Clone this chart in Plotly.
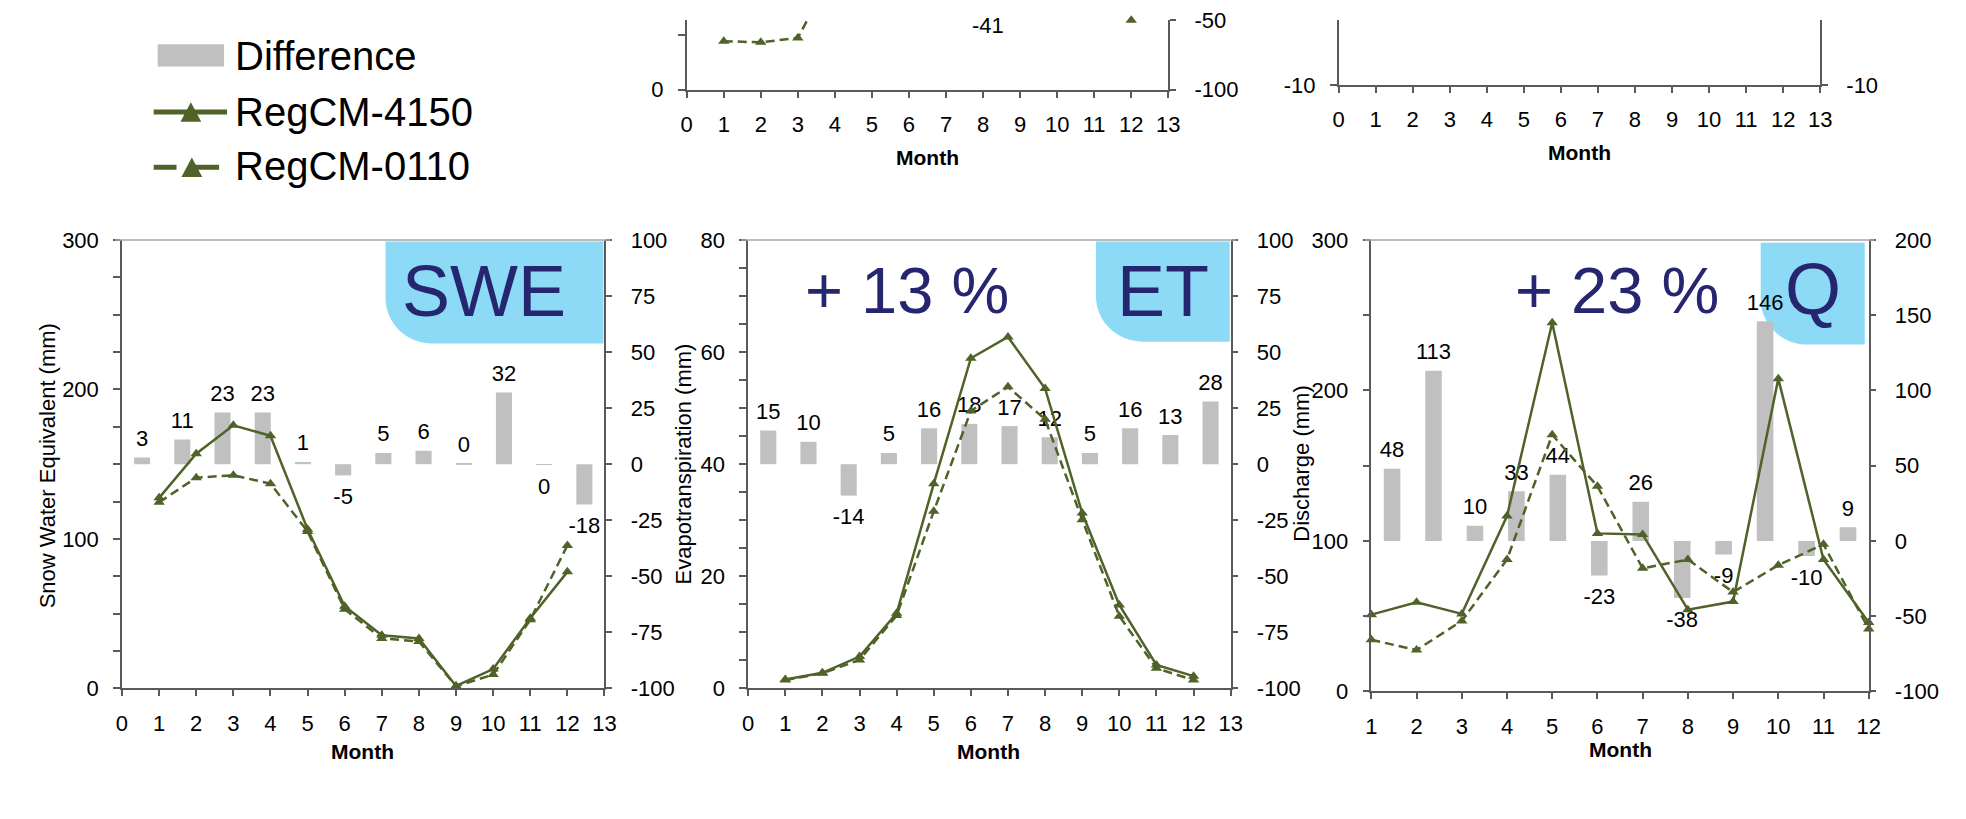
import plotly.graph_objects as go

# Page is 1966x819; the browser body keeps its default 8px margin,
# so the figure itself is 1950x802 and sits at (8, 8).
PAGE_OFF = 8
FW, FH = 1950, 802

# ---------------- data ----------------
months = list(range(1, 13))
bar_slots = list(range(1, 13))
month_ticks = list(range(0, 14))
q_month_ticks = list(range(1, 13))

# upper-middle panel (only its lowest part is visible)
top_4150 = [None, None, 70, None, None, None, None, None, None, None, None, 70]
top_0110 = [44, 43, 47, 110, None, None, None, None, None, None, None, 63]
top_diff = [None, None, None, None, None, None, None, -41, None, None, None, None]

# Snow water equivalent
swe_4150 = [127.5, 157, 176, 169, 106.5, 55, 35.6, 33.5, 1.7, 13, 47, 78]
swe_0110 = [124.5, 141, 142.6, 137, 105, 53, 33.5, 31.4, 1.5, 9.3, 46, 95.7]
swe_diff = [3, 11, 23, 23, 1, -5, 5, 6, 0.3, 32, -0.3, -18]

# Evapotranspiration
et_4150 = [1.6, 2.8, 5.7, 13.4, 36.5, 58.9, 62.7, 53.5, 31.3, 14.9, 4.2, 2.2]
et_0110 = [1.5, 2.7, 5.1, 13.0, 31.6, 49.5, 53.8, 48.0, 30.1, 12.9, 3.6, 1.5]
et_diff = [15, 10, -14, 5, 16, 18, 17, 12, 5, 16, 13, 28]

# Discharge
q_4150 = [51, 59.2, 51.5, 116.5, 245, 105, 104.3, 54.3, 59.7, 207.8, 87.6, 45.7]
q_0110 = [34.3, 27.5, 46.8, 87.6, 170.6, 136.3, 81.8, 87.6, 66, 83.9, 97.7, 41.4]
q_diff = [48, 113, 10, 33, 44, -23, 26, -38, -9, 146, -10, 9]

legend_names = ["Difference", "RegCM-4150", "RegCM-0110"]

# ---------------- style ----------------
OLIVE = '#4f6228'
GREY_BAR = '#c0c0c0'
NAVY = '#262670'
BOXBLUE = '#8cdaf5'
AXIS = '#5a5a5a'
TOPLINE = '#a6a6a6'
FONT = 'Liberation Sans, Arial, sans-serif'
TICKFONT = dict(family=FONT, size=22, color='black')


def fx(px):
    return (px - PAGE_OFF) / FW


def fy(py):
    return 1 - (py - PAGE_OFF) / FH


def axkey(letter, n):
    return f"{letter}axis" if n == 1 else f"{letter}axis{n}"


def axref(letter, n):
    return letter if n == 1 else f"{letter}{n}"


def labels(vals, every):
    return [str(v) if (v % every == 0) else '' for v in vals]


panels = [
    dict(x0=687, x1=1173, top=8, bottom=80, xr=[0, 13], xt=month_ticks,
         yl_range=[0, 63.2], yl_vals=[0, 50], yl_every=100,
         yr_range=[-100, -50], yr_vals=[-100, -50], yr_every=50,
         s4150=top_4150, s0110=top_0110, diff=top_diff, topline=False, cropped=True),
    dict(x0=1345, x1=1831, top=8, bottom=75, xr=[0, 13], xt=month_ticks,
         yl_range=[-10, 0], yl_vals=[-10], yl_every=10,
         yr_range=[-10, 0], yr_vals=[-10], yr_every=10,
         s4150=None, s0110=None, diff=None, topline=False, cropped=True),
    dict(x0=117, x1=604, top=235, bottom=698, xr=[0, 13], xt=month_ticks,
         yl_range=[0, 300], yl_vals=list(range(0, 301, 25)), yl_every=100,
         yr_range=[-100, 100], yr_vals=list(range(-100, 101, 25)), yr_every=25,
         s4150=swe_4150, s0110=swe_0110, diff=swe_diff, topline=True, cropped=False),
    dict(x0=749, x1=1236, top=235, bottom=698, xr=[0, 13], xt=month_ticks,
         yl_range=[0, 80], yl_vals=list(range(0, 81, 5)), yl_every=20,
         yr_range=[-100, 100], yr_vals=list(range(-100, 101, 25)), yr_every=25,
         s4150=et_4150, s0110=et_0110, diff=et_diff, topline=True, cropped=False),
    dict(x0=1378, x1=1880, top=235, bottom=701, xr=[1, 12], xt=q_month_ticks,
         yl_range=[0, 300], yl_vals=list(range(0, 301, 50)), yl_every=100,
         yr_range=[-100, 200], yr_vals=list(range(-100, 201, 50)), yr_every=50,
         s4150=q_4150, s0110=q_0110, diff=q_diff, topline=True, cropped=False),
]

fig = go.Figure()
layout = {}
shapes = []
annotations = []

for k, p in enumerate(panels):
    nb = 2 * k + 1
    nm = nb + 1
    dom_x = [fx(p['x0']), fx(p['x1'])]
    dom_y = [max(0, fy(p['bottom'])), min(1, fy(p['top']))]
    common = dict(showgrid=False, zeroline=False, fixedrange=True)
    layout[axkey('x', nb)] = dict(domain=dom_x, range=[0.5, 12.5], visible=False,
                                  anchor=axref('y', nb), **common)
    layout[axkey('y', nb)] = dict(domain=dom_y, range=p['yr_range'], side='right',
                                  anchor=axref('x', nb),
                                  tickmode='array', tickvals=p['yr_vals'],
                                  ticktext=labels(p['yr_vals'], p['yr_every']),
                                  ticks='outside', ticklen=6, tickwidth=1.5, tickcolor=AXIS,
                                  showline=True, linecolor=AXIS, linewidth=1.5,
                                  ticklabeloverflow='allow',
                                  tickfont=TICKFONT, ticklabelstandoff=14, **common)
    layout[axkey('x', nm)] = dict(domain=dom_x, overlaying=axref('x', nb), anchor=axref('y', nb),
                                  range=p['xr'], tickmode='array', tickvals=p['xt'],
                                  ticktext=[str(t) for t in p['xt']],
                                  ticks='outside', ticklen=6, tickwidth=1.5, tickcolor=AXIS,
                                  showline=True, linecolor=AXIS, linewidth=1.5,
                                  tickfont=TICKFONT, ticklabelstandoff=8, **common)
    layout[axkey('y', nm)] = dict(domain=dom_y, overlaying=axref('y', nb), side='left',
                                  anchor=axref('x', nm), range=p['yl_range'],
                                  tickmode='array', tickvals=p['yl_vals'],
                                  ticktext=labels(p['yl_vals'], p['yl_every']),
                                  ticks='outside', ticklen=7, tickwidth=1.5, tickcolor=AXIS,
                                  showline=True, linecolor=AXIS, linewidth=1.5,
                                  tickfont=TICKFONT, ticklabelstandoff=10, **common)

    if p['diff'] is not None:
        vals = p['diff']
        txt = ['' if v is None else str(int(round(v))) for v in vals]
        fig.add_trace(go.Bar(x=bar_slots, y=vals, width=0.4,
                             marker=dict(color=GREY_BAR, line=dict(width=0)),
                             xaxis=axref('x', nb), yaxis=axref('y', nb),
                             name=legend_names[0], showlegend=False, hoverinfo='skip'))
        # value labels just beyond each bar end
        fig.add_trace(go.Scatter(
            x=bar_slots, y=vals, mode='markers+text', text=txt,
            textposition=['top center' if (v is not None and v >= 0) else 'bottom center' for v in vals],
            marker=dict(size=[8 if (v is not None and v >= 0) else 18 for v in vals], opacity=0),
            textfont=dict(family=FONT, size=22, color='black'),
            cliponaxis=False, xaxis=axref('x', nb), yaxis=axref('y', nb),
            showlegend=False, hoverinfo='skip'))
        # cropped panel: bar end lies above the visible window, label below it still shows
        if p['cropped']:
            r0, r1 = p['yr_range']
            h = p['bottom'] - p['top']
            for slot, v, t in zip(bar_slots, vals, txt):
                if v is not None and v > r1:
                    ypx = p['bottom'] - (v - r0) / (r1 - r0) * h + 18.5
                    annotations.append(dict(text=t, x=slot, xref=axref('x', nb),
                                            y=fy(ypx), yref='paper', showarrow=False,
                                            xanchor='center', yanchor='middle',
                                            font=dict(family=FONT, size=22, color='black')))
    else:
        fig.add_trace(go.Scatter(x=[None], y=[None], xaxis=axref('x', nb), yaxis=axref('y', nb),
                                 showlegend=False))
    if p['s4150'] is not None:
        fig.add_trace(go.Scatter(x=months, y=p['s0110'], mode='lines+markers',
                                 line=dict(color=OLIVE, width=2.5, dash='9px,5px'),
                                 marker=dict(symbol='triangle-up', size=10, color=OLIVE),
                                 cliponaxis=False, connectgaps=False,
                                 xaxis=axref('x', nm), yaxis=axref('y', nm),
                                 name=legend_names[2], showlegend=False))
        fig.add_trace(go.Scatter(x=months, y=p['s4150'], mode='lines+markers',
                                 line=dict(color=OLIVE, width=2.5),
                                 marker=dict(symbol='triangle-up', size=10, color=OLIVE),
                                 cliponaxis=False, connectgaps=False,
                                 xaxis=axref('x', nm), yaxis=axref('y', nm),
                                 name=legend_names[1], showlegend=False))
    else:
        fig.add_trace(go.Scatter(x=[None], y=[None], xaxis=axref('x', nm), yaxis=axref('y', nm),
                                 showlegend=False))

    if p['topline']:
        shapes.append(dict(type='line', xref='paper', yref='paper',
                           x0=fx(p['x0'] - 7), x1=fx(p['x1'] + 6),
                           y0=fy(p['top']), y1=fy(p['top']),
                           line=dict(color=TOPLINE, width=1.5)))


# ---------- text helper ----------
def text_ann(txt, x, y, size, bold=False, angle=0, color='black', xanchor='center', family=FONT):
    annotations.append(dict(text=f"<b>{txt}</b>" if bold else txt, x=fx(x), y=fy(y),
                            xref='paper', yref='paper', showarrow=False,
                            xanchor=xanchor, yanchor='middle', textangle=angle,
                            font=dict(family=family, size=size, color=color)))


for cx, cy in [(930, 150), (1588, 145), (360, 763), (992, 763), (1629, 761)]:
    text_ann('Month', cx, cy, 21, bold=True)
text_ann('Snow Water Equivalent (mm)', 42, 468, 22, angle=-90)
text_ann('Evapotranspiration (mm)', 684, 466, 22, angle=-90)
text_ann('Discharge (mm)', 1308, 466, 22, angle=-90)


# ---------- blue corner boxes ----------
def corner_box(L, T, R, B, r):
    k = 0.5523 * r
    path = (f"M {fx(L)},{fy(T)} L {fx(R)},{fy(T)} L {fx(R)},{fy(B)} "
            f"L {fx(L + r)},{fy(B)} "
            f"C {fx(L + r - k)},{fy(B)} {fx(L)},{fy(B - r + k)} {fx(L)},{fy(B - r)} Z")
    shapes.append(dict(type='path', xref='paper', yref='paper', path=path,
                       fillcolor=BOXBLUE, line=dict(width=0), layer='below'))


corner_box(383, 236.5, 603, 342, 47)
corner_box(1100, 236.5, 1235, 340, 47)
corner_box(1771, 238, 1876, 343, 47)

text_ann('SWE', 482, 288, 72, color=NAVY)
text_ann('ET', 1168, 288, 72, color=NAVY)
text_ann('Q', 1824, 286, 72, color=NAVY)
text_ann('+ 13 %', 909, 287, 65, color=NAVY)
text_ann('+ 23 %', 1626, 287, 65, color=NAVY)

# ---------- legend ----------
shapes.append(dict(type='rect', xref='paper', yref='paper', x0=fx(153), x1=fx(220),
                   y0=fy(56), y1=fy(33), fillcolor=GREY_BAR, line=dict(width=0)))
shapes.append(dict(type='line', xref='paper', yref='paper', x0=fx(149), x1=fx(223),
                   y0=fy(103), y1=fy(103), line=dict(color=OLIVE, width=5)))
shapes.append(dict(type='path', xref='paper', yref='paper',
                   path=f"M {fx(176)},{fy(113)} L {fx(197)},{fy(113)} L {fx(186.5)},{fy(93)} Z",
                   fillcolor=OLIVE, line=dict(width=0)))
for a, b in [(149, 172), (190, 215)]:
    shapes.append(dict(type='line', xref='paper', yref='paper', x0=fx(a), x1=fx(b),
                       y0=fy(160), y1=fy(160), line=dict(color=OLIVE, width=5)))
shapes.append(dict(type='path', xref='paper', yref='paper',
                   path=f"M {fx(177)},{fy(170)} L {fx(198)},{fy(170)} L {fx(187.5)},{fy(150)} Z",
                   fillcolor=OLIVE, line=dict(width=0)))
for name, cy in zip(legend_names, [45, 103, 159]):
    text_ann(name, 229, cy, 40, xanchor='left')

fig.update_layout(width=FW, height=FH, margin=dict(l=0, r=0, t=0, b=0),
                  paper_bgcolor='white', plot_bgcolor='rgba(0,0,0,0)',
                  showlegend=False, barmode='overlay', hovermode=False,
                  shapes=shapes, annotations=annotations, **layout)

fig.write_html("out.html", config={'displayModeBar': False})
